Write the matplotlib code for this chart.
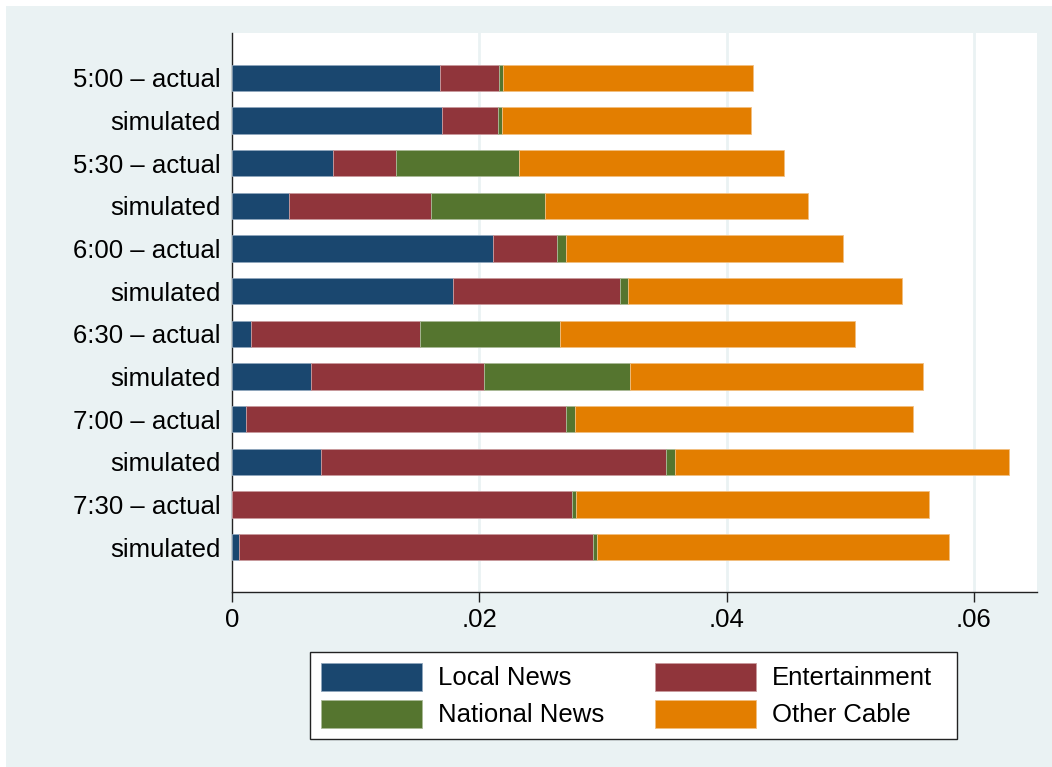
import numpy as np
import matplotlib
matplotlib.use("Agg")
import matplotlib.pyplot as plt
from matplotlib.patches import Rectangle

plt.rcParams['font.family'] = ['Liberation Sans', 'DejaVu Sans']

# Viewing shares by time slot (actual vs simulated)
rows = ["5:00 \u2013 actual", "simulated", "5:30 \u2013 actual", "simulated",
        "6:00 \u2013 actual", "simulated", "6:30 \u2013 actual", "simulated",
        "7:00 \u2013 actual", "simulated", "7:30 \u2013 actual", "simulated"]
local_news    = [0.0168, 0.0170, 0.0082, 0.0046, 0.0211, 0.0179, 0.0015, 0.0064, 0.0011, 0.0072, 0.0000, 0.0006]
entertainment = [0.0048, 0.0045, 0.0051, 0.0115, 0.0052, 0.0135, 0.0137, 0.0140, 0.0259, 0.0279, 0.0275, 0.0286]
national_news = [0.0003, 0.0003, 0.0099, 0.0092, 0.0007, 0.0006, 0.0113, 0.0118, 0.0007, 0.0007, 0.0003, 0.0003]
other_cable   = [0.0202, 0.0202, 0.0214, 0.0213, 0.0224, 0.0222, 0.0239, 0.0237, 0.0274, 0.0270, 0.0286, 0.0285]

series_names = ["Local News", "Entertainment", "National News", "Other Cable"]
series_vals = [local_news, entertainment, national_news, other_cable]
colors = ["#1A476F", "#90353B", "#55752F", "#E37E00"]
edges = ["#8FA6BC", "#C99A9D", "#A9BA97", "#F2BE80"]

x_ticks = [0, 0.02, 0.04, 0.06]
x_ticklabels = ["0", ".02", ".04", ".06"]

FS = 18.5

W, H = 1052, 767
fig = plt.figure(figsize=(W / 100, H / 100), dpi=100)
fig.patch.set_facecolor("white")
bg = "#EAF2F3"
fig.patches.append(Rectangle((6 / W, 0), 1 - 6 / W, 1 - 6 / H,
                             transform=fig.transFigure, facecolor=bg,
                             edgecolor="none", zorder=-10))

ax = fig.add_axes([232 / W, (H - 592) / H, (1037 - 232) / W, (592 - 33) / H])
ax.set_facecolor("white")

y = np.arange(len(rows))
left = np.zeros(len(rows))
for vals, c, ec, name in zip(series_vals, colors, edges, series_names):
    v = np.array(vals)
    ax.barh(y, v, left=left, height=0.62, color=c, edgecolor=ec,
            linewidth=0.6, label=name, zorder=3)
    left += v

ax.set_ylim(len(rows) - 1 + 1.05, -1.05)
ax.set_xlim(0, 0.0651)
ax.set_yticks(y)
ax.set_yticklabels(rows, fontsize=FS)
ax.tick_params(axis="y", length=0, pad=8.5)
ax.set_xticks(x_ticks)
ax.set_xticklabels(x_ticklabels, fontsize=FS)
ax.tick_params(axis="x", length=7.2, width=1.0, color="#222222", pad=4)

for xv in x_ticks[1:]:
    ax.axvline(xv, color=bg, linewidth=2.0, zorder=1)

for s in ["top", "right"]:
    ax.spines[s].set_visible(False)
for s in ["left", "bottom"]:
    ax.spines[s].set_color("#222222")
    ax.spines[s].set_linewidth(1.0)

# Legend box drawn in pixel coordinates of the figure
def fx(px):
    return px / W

def fy(py):
    return 1 - py / H

fig.patches.append(Rectangle((fx(310), fy(739)), fx(957) - fx(310), fy(652) - fy(739),
                             transform=fig.transFigure, facecolor="white",
                             edgecolor="#222222", linewidth=1.0, zorder=5))
legend_layout = [(0, 321, 663), (1, 655, 663), (2, 321, 700), (3, 655, 700)]
for idx, sx, sy in legend_layout:
    fig.patches.append(Rectangle((fx(sx), fy(sy + 28)), fx(sx + 101) - fx(sx), fy(sy) - fy(sy + 28),
                                 transform=fig.transFigure, facecolor=colors[idx],
                                 edgecolor=edges[idx], linewidth=0.6, zorder=6))
    fig.text(fx(sx + 117), fy(sy + 15), series_names[idx], fontsize=FS,
             va="center", ha="left", zorder=7)

fig.savefig("out.png", dpi=100, facecolor=fig.get_facecolor())
